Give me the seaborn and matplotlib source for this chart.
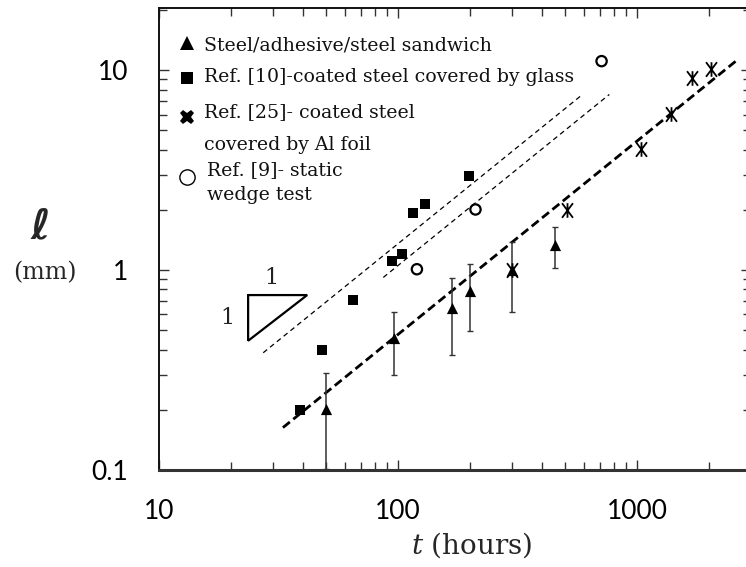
import numpy as np
import pandas as pd
import matplotlib
matplotlib.use("Agg")
import matplotlib.pyplot as plt
from matplotlib.path import Path
from matplotlib.lines import Line2D
from matplotlib.ticker import FixedLocator, FixedFormatter, LogLocator, NullFormatter
import seaborn as sns

# ---------------- data ----------------
tri_t = [50, 96.6, 169, 200, 300, 454]
tri_l = [0.203, 0.458, 0.648, 0.783, 1.0, 1.34]
tri_err = [0.102, 0.16, 0.27, 0.29, 0.38, 0.31]

sq_t = [39, 48, 65, 94, 104, 116, 130, 199]
sq_l = [0.20, 0.40, 0.706, 1.11, 1.21, 1.92, 2.13, 2.95]

cross_t = [300, 510, 1040, 1390, 1700, 2040]
cross_l = [1.0, 2.0, 4.03, 6.07, 9.09, 10.1]

circ_t = [120, 211, 711]
circ_l = [1.01, 2.01, 11.1]

# fitted / guide lines (end points)
fit_t = [33, 2640]
fit_l = [0.163, 11.3]
guideA_t = [27.3, 587]
guideA_l = [0.386, 7.5]
guideB_t = [86.8, 766]
guideB_l = [0.919, 7.56]

# slope triangle
slope_t = [23.6, 41.7, 23.6, 23.6]
slope_l = [0.75, 0.75, 0.443, 0.75]

x_ticks = [10, 100, 1000]
x_tick_labels = ["10", "100", "1000"]
y_ticks = [0.1, 1, 10]
y_tick_labels = ["0.1", "1", "10"]

legend_labels = [
    ["Steel/adhesive/steel sandwich"],
    ["Ref. [10]-coated steel covered by glass"],
    ["Ref. [25]- coated steel", "covered by Al foil"],
    ["Ref. [9]- static", "wedge test"],
]

# ---------------- figure ----------------
sns.set_theme(style="ticks")
plt.rcParams["font.family"] = ["DejaVu Serif", "DejaVu Sans"]
plt.rcParams["mathtext.fontset"] = "dejavuserif"

W, H = 746, 567
fig = plt.figure(figsize=(W / 100, H / 100), dpi=100)
fig.patch.set_facecolor("white")


def fp(x, y):
    return (x / W, 1 - y / H)


L, R, T, B = 159, 751, 8.3, 470
ax = fig.add_axes([L / W, (H - B) / H, (R - L) / W, (B - T) / H])
ax.set_facecolor("white")
ax.set_xscale("log")
ax.set_yscale("log")
ax.set_xlim(10, 3000)
ax.set_ylim(0.1, 20.4)

# lines
ax.plot(fit_t, fit_l, color="black", lw=2.0, dashes=(3.2, 1.6), zorder=2)
ax.plot(guideA_t, guideA_l, color="black", lw=0.9, dashes=(4, 3), zorder=2)
ax.plot(guideB_t, guideB_l, color="black", lw=0.9, dashes=(4, 3), zorder=2)
ax.plot(slope_t, slope_l, color="black", lw=1.6, zorder=2, solid_joinstyle="miter")
ax.text(29.4, 0.912, "1", fontsize=16, ha="center", va="center", color="#222")
ax.text(19.3, 0.575, "1", fontsize=16, ha="center", va="center", color="#222")

# error bars
ax.errorbar(tri_t, tri_l, yerr=tri_err, fmt="none", ecolor="#333", elinewidth=1.1,
            capsize=2.5, capthick=1.0, zorder=3, clip_on=False)

# markers
cross_marker = Path(
    [(-0.45, -0.6), (0.45, 0.6), (-0.45, 0.6), (0.45, -0.6), (0, -0.6), (0, 0.6)],
    [Path.MOVETO, Path.LINETO, Path.MOVETO, Path.LINETO, Path.MOVETO, Path.LINETO],
)

sns.scatterplot(x=tri_t, y=tri_l, marker="^", s=65, color="black", edgecolor="black",
                linewidth=0, ax=ax, zorder=4)
sns.scatterplot(x=sq_t, y=sq_l, marker="s", s=55, color="black", edgecolor="black",
                linewidth=0, ax=ax, zorder=4)
sns.scatterplot(x=cross_t, y=cross_l, marker=cross_marker, s=110, color="black",
                edgecolor="black", linewidth=1.3, ax=ax, zorder=4)
sns.scatterplot(x=circ_t, y=circ_l, marker="o", s=55, color="black", linewidth=1.6,
                ax=ax, zorder=4)
circ_coll = ax.collections[-1]
circ_coll.set_facecolor("none")
circ_coll.set_edgecolor("black")

# ticks
ax.xaxis.set_major_locator(FixedLocator(x_ticks))
ax.xaxis.set_major_formatter(FixedFormatter(x_tick_labels))
ax.xaxis.set_minor_locator(LogLocator(base=10, subs=np.arange(2, 10)))
ax.xaxis.set_minor_formatter(NullFormatter())
ax.yaxis.set_major_locator(FixedLocator(y_ticks))
ax.yaxis.set_major_formatter(FixedFormatter(y_tick_labels))
ax.yaxis.set_minor_locator(LogLocator(base=10, subs=np.arange(2, 10)))
ax.yaxis.set_minor_formatter(NullFormatter())
ax.tick_params(which="both", direction="in", top=True, right=True, color="#333", width=1.0)
ax.tick_params(which="major", length=7.5)
ax.tick_params(which="minor", length=5.5)
ax.tick_params(axis="x", which="major", pad=21)
ax.tick_params(axis="y", which="major", pad=22)
for lab in ax.get_xticklabels() + ax.get_yticklabels():
    lab.set_fontfamily(["Lato", "DejaVu Sans"])
    lab.set_fontsize(19)
    lab.set_color("black")

for s in ["left", "top", "right"]:
    ax.spines[s].set_color("#111")
    ax.spines[s].set_linewidth(1.4)
ax.spines["bottom"].set_color("#333")
ax.spines["bottom"].set_linewidth(2.2)

# axis labels
fig.text(*fp(472, 545), r"$t$ (hours)", fontsize=20, ha="center", va="center")
fig.text(*fp(40, 226), "ℓ", fontsize=30, fontweight="bold", fontstyle="italic",
         family=["DejaVu Sans", "DejaVu Serif"], ha="center", va="center")
fig.text(*fp(44.5, 273), "(mm)", fontsize=17, ha="center", va="center")

# legend (placed entry by entry)
leg_markers = [
    dict(marker="^", ms=10, color="black", mew=0),
    dict(marker="s", ms=9, color="black", mew=0),
    dict(marker="X", ms=10.5, color="black", mew=0),
    dict(marker="o", ms=11, mfc="none", mec="black", mew=1.0),
]
marker_y = [43, 78, 117, 177]
line_y = [[45], [77], [112, 145], [170, 195]]
text_x = [204, 204, 204, 207]
for mk, my, lys, tx, labels in zip(leg_markers, marker_y, line_y, text_x, legend_labels):
    fig.add_artist(Line2D([186.7 / W], [1 - my / H], ls="none",
                          transform=fig.transFigure, **mk))
    for ly, lab in zip(lys, labels):
        fig.text(*fp(tx, ly), lab, fontsize=13.6, ha="left", va="center", color="#111")

fig.savefig("out.png", dpi=100, facecolor="white")
